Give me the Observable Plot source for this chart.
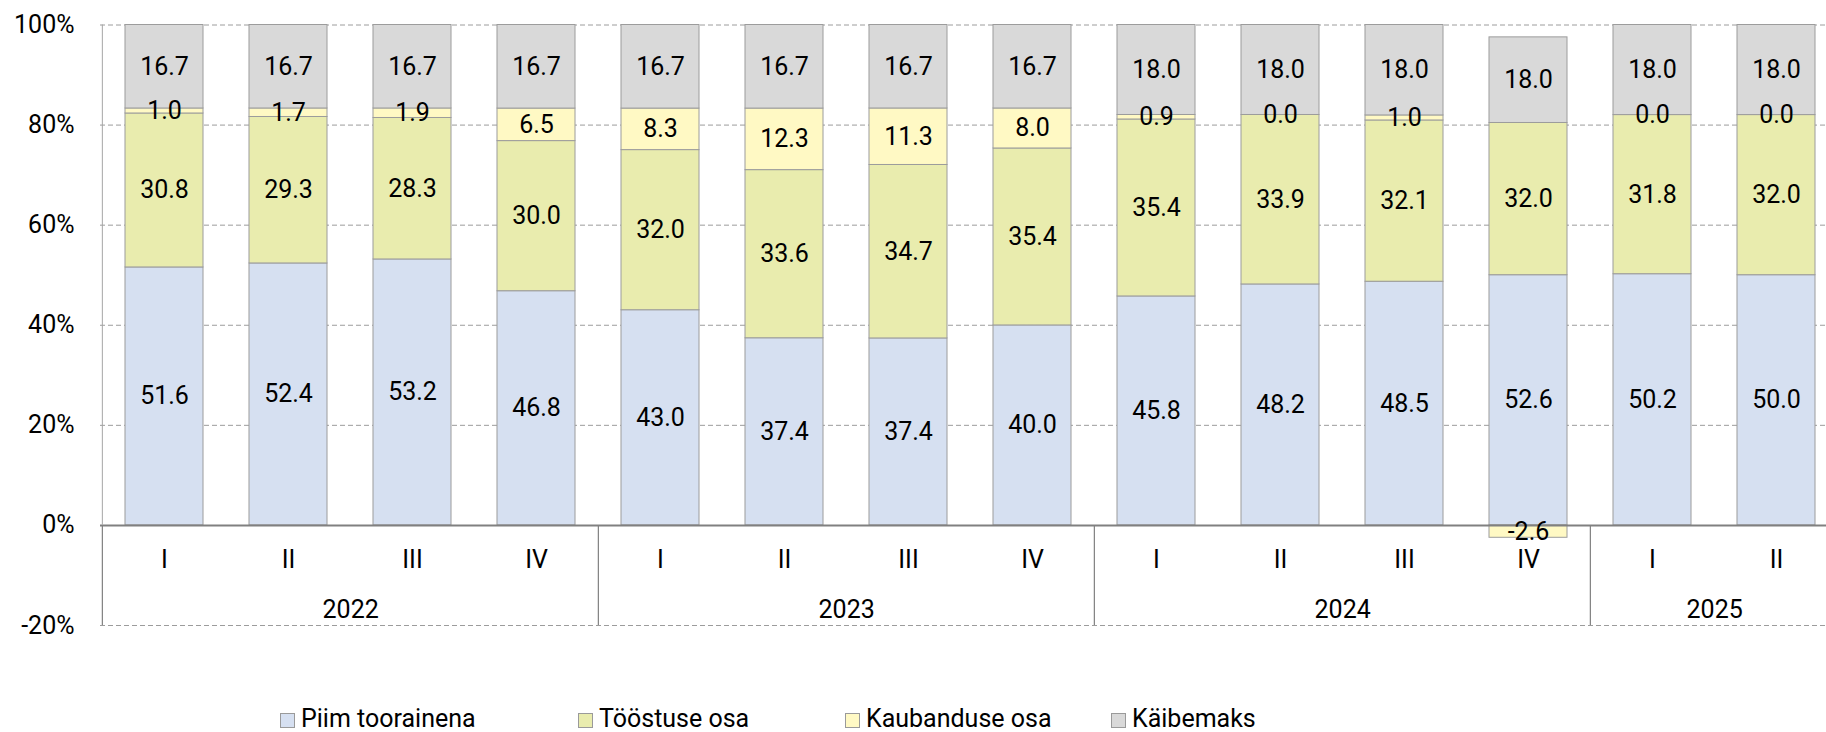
<!DOCTYPE html>
<html>
<head>
<meta charset="utf-8">
<script src="https://cdn.jsdelivr.net/npm/d3@7"></script>
<script src="https://cdn.jsdelivr.net/npm/@observablehq/plot@0.6"></script>
<style>
html, body { margin: 0; padding: 0; background: #fff; }
body { width: 1826px; height: 732px; position: relative; overflow: hidden; font-family: Roboto, sans-serif; }
#chart { position: absolute; left: 0; top: 0; }
.legend-item { position: absolute; top: 706px; font-size: 25px; line-height: 25px; color: #000; white-space: nowrap; }
.legend-item .sw { position: absolute; left: 0; top: 7px; width: 13px; height: 13px; border: 1px solid #9a9a9a; }
.legend-item .lbl { position: absolute; left: 21px; top: 0; }
</style>
</head>
<body>
<div id="chart"></div>
<div id="legend"></div>
<script>
// ---- data ----
const years = ["2022", "2023", "2024", "2025"];
const quarters = [["I","II","III","IV"], ["I","II","III","IV"], ["I","II","III","IV"], ["I","II"]];
const seriesNames = ["Piim toorainena", "Tööstuse osa", "Kaubanduse osa", "Käibemaks"];
const piim      = [51.6, 52.4, 53.2, 46.8, 43.0, 37.4, 37.4, 40.0, 45.8, 48.2, 48.5, 52.6, 50.2, 50.0];
const toostus   = [30.8, 29.3, 28.3, 30.0, 32.0, 33.6, 34.7, 35.4, 35.4, 33.9, 32.1, 32.0, 31.8, 32.0];
const kaubandus = [1.0, 1.7, 1.9, 6.5, 8.3, 12.3, 11.3, 8.0, 0.9, 0.0, 1.0, -2.6, 0.0, 0.0];
const kaibemaks = [16.7, 16.7, 16.7, 16.7, 16.7, 16.7, 16.7, 16.7, 18.0, 18.0, 18.0, 18.0, 18.0, 18.0];
const yTicks = [-20, 0, 20, 40, 60, 80, 100];
const gridTicks = [-20, 20, 40, 60, 80, 100];
const colors = ["#D6E0F1", "#E9ECAE", "#FFF9C4", "#D9D9D9"];

// ---- build tables ----
const keys = [];
const quarterOf = {};
const yearGroups = [];
years.forEach((y, i) => {
  const qs = quarters[i];
  const groupKeys = qs.map(q => { const k = y + " " + q; keys.push(k); quarterOf[k] = q; return k; });
  yearGroups.push({year: y, firstKey: groupKeys[0], midKey: groupKeys[qs.length / 2 - 1]});
});
const seriesValues = [piim, toostus, kaubandus, kaibemaks];
const rows = [];
keys.forEach((k, i) => {
  const total = seriesValues.reduce((s, arr) => s + Math.abs(arr[i]), 0); // 100% stacked
  seriesNames.forEach((name, j) => {
    const v = seriesValues[j][i];
    rows.push({key: k, series: name, value: v, share: v / total * 100});
  });
});

const xOpts = {type: "band", domain: keys, range: [100, 1840], paddingInner: 0.37, paddingOuter: 0.185};
const xs = Plot.scale({x: xOpts});
const step = xs.step != null ? xs.step : (1840 - 100) / keys.length;

const plot = Plot.plot({
  width: 1826,
  height: 690,
  marginLeft: 100,
  marginRight: 0,
  marginTop: 0,
  marginBottom: 65,
  style: {fontFamily: "Roboto, sans-serif", fontSize: "25px", background: "white", color: "#000", overflow: "visible"},
  x: {...xOpts, axis: null},
  y: {domain: [-20, 100], range: [625, 24.5], axis: null},
  color: {domain: seriesNames, range: colors},
  marks: [
    Plot.ruleY(gridTicks, {stroke: "#9c9c9c", strokeWidth: 1, strokeDasharray: "5,3"}),
    Plot.barY(rows, Plot.stackY({x: "key", y: "share", fill: "series", stroke: "#9c9c9c", strokeWidth: 1})),
    Plot.ruleY([0], {stroke: "#808080", strokeWidth: 2}),
    Plot.ruleX([keys[0]], {y1: 0, y2: 100, dx: -step / 2, stroke: "#a6a6a6", strokeWidth: 1}),
    Plot.ruleX(yearGroups, {x: "firstKey", y1: -20, y2: 0, dx: -step / 2, stroke: "#808080", strokeWidth: 1.2}),
    Plot.axisY({ticks: yTicks, tickFormat: d => d + "%", tickSize: 0, tickPadding: 26, fontSize: 25, label: null, fill: "#000"}),
    Plot.text(rows, Plot.stackY({x: "key", y: "share", text: d => d.value.toFixed(1), fontSize: 25, fill: "#000"})),
    Plot.text(keys, {x: d => d, text: d => quarterOf[d], frameAnchor: "bottom", lineAnchor: "bottom", dy: -58, fontSize: 25, fill: "#000"}),
    Plot.text(yearGroups, {x: "midKey", text: "year", dx: step / 2, frameAnchor: "bottom", lineAnchor: "bottom", dy: -8, fontSize: 25, fill: "#000"})
  ]
});
document.getElementById("chart").appendChild(plot);

// ---- legend ----
const legendLeft = [280, 578, 845, 1111];
const legend = document.getElementById("legend");
seriesNames.forEach((name, i) => {
  const item = document.createElement("div");
  item.className = "legend-item";
  item.style.left = legendLeft[i] + "px";
  const sw = document.createElement("span");
  sw.className = "sw";
  sw.style.background = colors[i];
  const lbl = document.createElement("span");
  lbl.className = "lbl";
  lbl.textContent = name;
  item.appendChild(sw);
  item.appendChild(lbl);
  legend.appendChild(item);
});
</script>
</body>
</html>
